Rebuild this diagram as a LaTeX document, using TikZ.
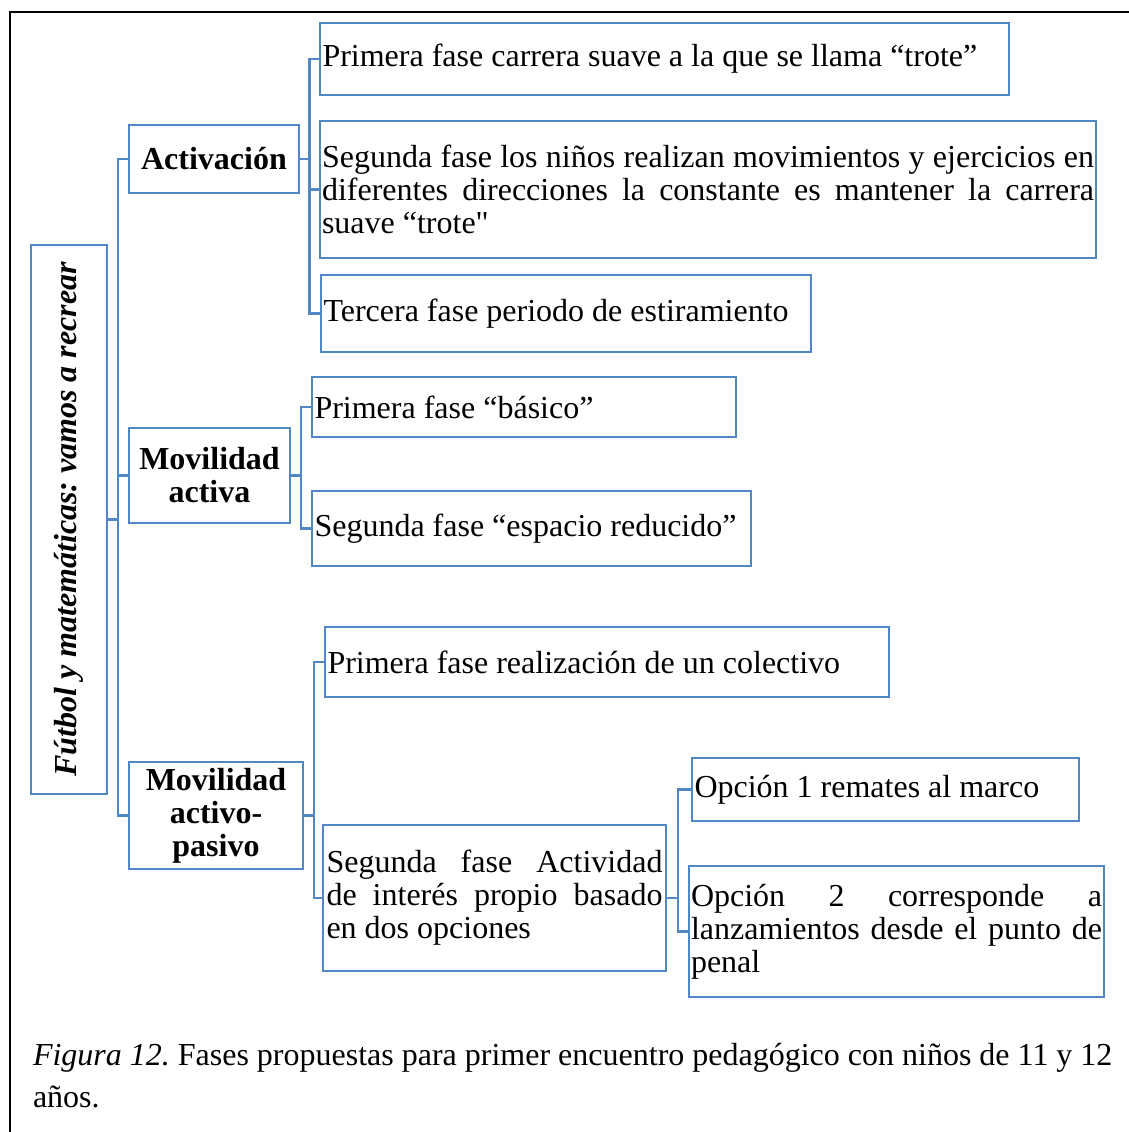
\documentclass[tikz,border=0pt]{standalone}
\usepackage{fontspec}
\setmainfont{Liberation Serif}
% same face without the TeX quote mapping, for a straight double quote
\newfontfamily\rawserif{Liberation Serif}
\definecolor{boxblue}{HTML}{5087C4}
% a line whose interword spaces are stretched to the full text width
\newcommand{\jl}[1]{\makebox[\linewidth][s]{#1}}
\newcommand{\straightquote}{{\rawserif"}}
\frenchspacing
\begin{document}
\begin{tikzpicture}[x=1pt,y=-1pt,
  every node/.style={inner sep=0pt, outer sep=0pt},
  boxbase/.style={draw=boxblue, line width=2.4pt, rectangle},
  headbox/.style={boxbase, align=center, font=\fontsize{32}{33}\selectfont\bfseries},
  leafbox/.style={boxbase, align=justify, inner xsep=2.5pt, font=\fontsize{32}{33}\selectfont},
  conn/.style={draw=boxblue, line width=2.4pt}]
\useasboundingbox (0,0) rectangle (1129,1132);

% frame around figure and caption
\draw[black, line width=2pt] (10,1132) -- (10,12) -- (1129,12);

% root
\node[boxbase, minimum width=76pt, minimum height=549pt] (root) at (69,519.5) {};
\node[rotate=90, font=\fontsize{32}{33}\selectfont\bfseries\itshape] (roottext) at (root.center) {Fútbol y matemáticas: vamos a recrear};

% second level
\node[headbox, minimum width=170pt, minimum height=68pt] (act) at (214,159) {Activación};
\node[headbox, minimum width=161pt, minimum height=95pt] (mact) at (209.5,475.5) {Movilidad\\activa};
\node[headbox, minimum width=174pt, minimum height=107pt] (mpas) at (216,815.5) {Movilidad\\activo-\\pasivo};

% Activación
\node[leafbox, minimum width=689pt, minimum height=72pt, text width=684pt] (a1) at (664.5,59)
  {Primera fase carrera suave a la que se llama “trote”};
\node[leafbox, minimum width=776pt, minimum height=137pt, text width=772pt, inner xsep=2pt] (a2) at (708,189.5)
  {\jl{Segunda fase los niños realizan movimientos y ejercicios en}\\
   \jl{diferentes direcciones la constante es mantener la carrera}\\
   suave “trote\straightquote};
\node[leafbox, minimum width=490pt, minimum height=77pt, text width=485pt] (a3) at (566,313.5)
  {Tercera fase periodo de estiramiento};

% Movilidad activa
\node[leafbox, minimum width=424pt, minimum height=60pt, text width=419pt] (b1) at (524,407)
  {Primera fase “básico”};
\node[leafbox, minimum width=439pt, minimum height=75pt, text width=434pt] (b2) at (531.5,528.5)
  {Segunda fase “espacio reducido”};

% Movilidad activo-pasivo
\node[leafbox, minimum width=564pt, minimum height=70pt, text width=559pt] (c1) at (607,662)
  {Primera fase realización de un colectivo};
\node[leafbox, minimum width=343pt, minimum height=146pt, text width=336pt, inner xsep=3.5pt] (c2) at (494.5,898)
  {\jl{Segunda fase Actividad}\\
   \jl{de interés propio basado}\\
   en dos opciones};

% options
\node[leafbox, minimum width=387pt, minimum height=63pt, text width=382pt] (d1) at (885.5,789.5)
  {Opción 1 remates al marco};
\node[leafbox, minimum width=415pt, minimum height=131pt, text width=411pt, inner xsep=2pt] (d2) at (896.5,931.5)
  {\jl{Opción 2 corresponde a}\\
   \jl{lanzamientos desde el punto de}\\
   penal};

% connectors
\draw[conn] (root.east) -- ++(11,0) |- (act.west);
\draw[conn] (root.east) -- ++(11,0) |- (mact.west);
\draw[conn] (root.east) -- ++(11,0) |- (mpas.west);

\draw[conn] (act.east) -- ++(10.5,0) |- (a1.west);
\draw[conn] (act.east) -- ++(10.5,0) |- (a2.west);
\draw[conn] (act.east) -- ++(10.5,0) |- (a3.west);

\draw[conn] (mact.east) -- ++(11,0) |- (b1.west);
\draw[conn] (mact.east) -- ++(11,0) |- (b2.west);

\draw[conn] (mpas.east) -- ++(11,0) |- (c1.west);
\draw[conn] (mpas.east) -- ++(11,0) |- (c2.west);

\draw[conn] (c2.east) -- ++(12,0) |- (d1.west);
\draw[conn] (c2.east) -- ++(12,0) |- (d2.west);

% caption (anchored on the baseline of its last line)
\node[anchor=base west, align=left, font=\fontsize{32}{42}\selectfont] (caption) at (33,1107)
  {\textit{Figura 12.} Fases propuestas para primer encuentro pedagógico con niños de 11 y 12\\años.};
\end{tikzpicture}
\end{document}
